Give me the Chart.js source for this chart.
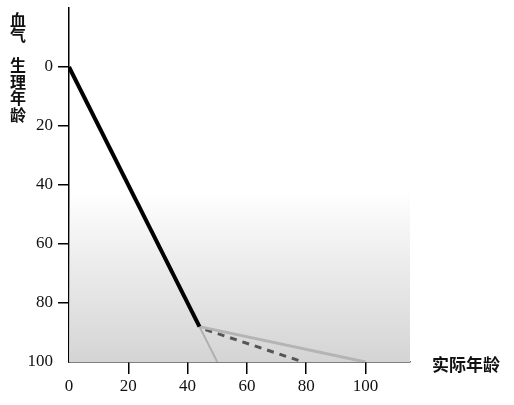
<!DOCTYPE html>
<html lang="zh">
<head>
  <meta charset="UTF-8">
  <title>血气 生理年龄</title>
  <script src="https://cdn.jsdelivr.net/npm/chart.js"></script>
  <style>
    body { margin: 0; padding: 0; background: #fff; }
    .wrap { width: 514px; height: 405px; position: relative; }
  </style>
</head>
<body>
  <div class="wrap"><canvas id="ageChart"></canvas></div>
  <script>
    // tick labels
    const xTicks = [0, 20, 40, 60, 80, 100];
    const yTicks = [0, 20, 40, 60, 80, 100];

    // series
    const mainLine = [{x: 0, y: 0}, {x: 44, y: 88}];
    const steepLine = [{x: 44, y: 88}, {x: 50, y: 100}];
    const shallowLine = [{x: 44, y: 88}, {x: 100, y: 100}];
    const dashedLine = [{x: 46, y: 89}, {x: 79, y: 100}];

    const yTitleTop = ['血', '气'];
    const yTitleBottom = ['生', '理', '年', '龄'];
    const xTitle = '实际年龄';

    // shaded band and titles
    const decor = {
      id: 'decor',
      beforeDatasetsDraw(chart) {
        const { ctx, chartArea, scales } = chart;
        const top = scales.y.getPixelForValue(42);
        const bottom = scales.y.getPixelForValue(100);
        const g = ctx.createLinearGradient(0, top, 0, bottom);
        g.addColorStop(0, 'rgba(215,215,215,0)');
        g.addColorStop(0.45, 'rgba(215,215,215,0.5)');
        g.addColorStop(1, 'rgba(212,212,212,1)');
        ctx.save();
        ctx.fillStyle = g;
        ctx.fillRect(chartArea.left, top, chartArea.right - chartArea.left, bottom - top);
        ctx.restore();
      },
      afterDraw(chart) {
        const { ctx, scales } = chart;
        ctx.save();
        ctx.fillStyle = '#111';
        ctx.font = 'bold 16px "Noto Sans CJK SC"';
        ctx.textAlign = 'center';
        ctx.textBaseline = 'middle';
        yTitleTop.forEach((c, i) => ctx.fillText(c, 18, 20 + i * 15));
        yTitleBottom.forEach((c, i) => ctx.fillText(c, 18, 65 + i * 16.5));
        ctx.font = 'bold 17px "Noto Sans CJK SC"';
        ctx.textAlign = 'left';
        ctx.fillText(xTitle, 432, scales.y.getPixelForValue(100) + 3);
        ctx.restore();
      }
    };

    const ctx = document.getElementById('ageChart').getContext('2d');
    new Chart(ctx, {
      type: 'line',
      data: {
        datasets: [
          { data: mainLine, borderColor: '#000', borderWidth: 4 },
          { data: steepLine, borderColor: '#b0b0b0', borderWidth: 2 },
          { data: shallowLine, borderColor: '#b4b4b4', borderWidth: 3 },
          { data: dashedLine, borderColor: '#555', borderWidth: 3, borderDash: [7, 6] }
        ]
      },
      options: {
        responsive: true,
        maintainAspectRatio: false,
        animation: false,
        layout: { padding: { left: 0, right: 104, top: 8, bottom: 0 } },
        elements: { point: { radius: 0 }, line: { tension: 0, borderCapStyle: 'butt' } },
        plugins: { legend: { display: false }, tooltip: { enabled: false } },
        scales: {
          x: {
            type: 'linear',
            min: 0,
            max: 115,
            afterBuildTicks: (s) => { s.ticks = xTicks.map(v => ({ value: v })); },
            afterFit: (s) => { s.height = 43; },
            border: { display: true, color: '#000', width: 1.5 },
            grid: {
              drawOnChartArea: false,
              tickLength: 12,
              lineWidth: 1.5,
              color: (c) => c.tick && c.tick.value === 0 ? 'rgba(0,0,0,0)' : '#000'
            },
            ticks: {
              color: '#111',
              padding: 2,
              maxRotation: 0,
              font: { family: '"Liberation Serif"', size: 17 }
            }
          },
          y: {
            type: 'linear',
            reverse: true,
            min: -20,
            max: 100,
            afterBuildTicks: (s) => { s.ticks = yTicks.map(v => ({ value: v })); },
            afterFit: (s) => { s.width = 69; s.paddingTop = 0; s.paddingBottom = 0; },
            border: { display: true, color: '#000', width: 1.5 },
            grid: {
              drawOnChartArea: false,
              tickLength: 11,
              lineWidth: 1.5,
              color: (c) => c.tick && c.tick.value === 100 ? 'rgba(0,0,0,0)' : '#000'
            },
            ticks: {
              color: '#111',
              padding: 5,
              font: { family: '"Liberation Serif"', size: 17 }
            }
          }
        }
      },
      plugins: [decor]
    });
  </script>
</body>
</html>
